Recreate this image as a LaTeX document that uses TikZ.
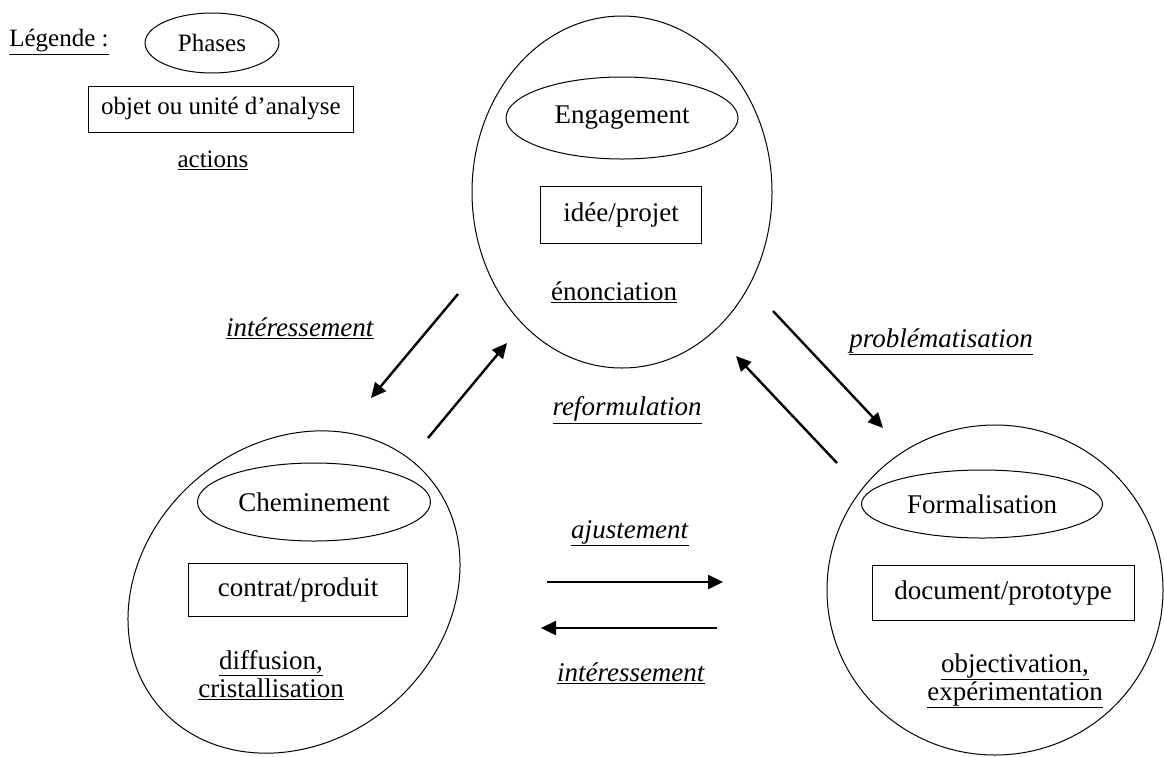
\documentclass[tikz,border=0pt]{standalone}
\usepackage{fontspec}
\setmainfont{Liberation Serif}
\usetikzlibrary{shapes.geometric,arrows.meta}
\begin{document}
\begin{tikzpicture}[x=1pt,y=-1pt,
  every node/.style={font=\fontsize{27}{28}\selectfont},
  legfont/.style={font=\fontsize{25}{28}\selectfont},
  big/.style={draw,ellipse,line width=1pt,inner sep=0pt},
  phase/.style={draw,ellipse,line width=1pt,inner sep=0pt},
  obj/.style={draw,rectangle,line width=1pt,inner sep=0pt},
  lbl/.style={align=center,inner sep=0pt},
  arr/.style={line width=2.4pt,-{Triangle[length=15pt,width=14pt]}}
]
\useasboundingbox (0,0) rectangle (1164,756);
% legend
\node[lbl,legfont] (leg) at (59,42) {\underline{Légende :}};
\node[phase,legfont, minimum width=134pt, minimum height=60pt] (lphase) at (212,43) {Phases};
\node[obj,legfont, minimum width=265pt, minimum height=46pt] (lobj) at (221,109) {objet ou unité d’analyse};
\node[lbl,legfont] (lact) at (213,160) {\underline{actions}};
% Engagement
\node[big, minimum width=300pt, minimum height=352pt] (E) at (622,192) {};
\node[phase, minimum width=232pt, minimum height=82pt] (Ep) at (622,118) {Engagement};
\node[obj, minimum width=161pt, minimum height=57pt] (Eo) at (621,215) {idée/projet};
\node[lbl] (Ea) at (614,292) {\underline{énonciation}};
% Cheminement
\node[big, rotate=40, minimum width=354pt, minimum height=298pt] (C) at (294,592) {};
\node[phase, minimum width=233pt, minimum height=78pt] (Cp) at (314,502) {Cheminement};
\node[obj, minimum width=219pt, minimum height=53pt] (Co) at (298,590) {contrat/produit};
\node[lbl] (Ca) at (271,675) {\underline{diffusion,}\\\underline{cristallisation}};
% Formalisation
\node[big, minimum width=336pt, minimum height=330pt] (F) at (995,590) {};
\node[phase, minimum width=241pt, minimum height=68pt] (Fp) at (982,504) {Formalisation};
\node[obj, minimum width=262pt, minimum height=55pt] (Fo) at (1003,593) {document/prototype};
\node[lbl] (Fa) at (1015,681) {\underline{objectivation,}\\\underline{expérimentation}};
% action labels
\node[lbl] (l1) at (300,328) {\underline{\textit{intéressement}}};
\node[lbl] (l2) at (941,342) {\underline{\textit{problématisation}}};
\node[lbl] (l3) at (627,410) {\underline{\textit{reformulation}}};
\node[lbl] (l4) at (630,533) {\underline{\textit{ajustement}}};
\node[lbl] (l5) at (631,673) {\underline{\textit{intéressement}}};
% arrows
\coordinate (a1s) at (458,294); \coordinate (a1e) at (371,398);
\coordinate (a2s) at (428,438); \coordinate (a2e) at (507,343);
\coordinate (a3s) at (773,311); \coordinate (a3e) at (883,428);
\coordinate (a4s) at (837,463); \coordinate (a4e) at (736,356);
\coordinate (a5s) at (547,582); \coordinate (a5e) at (723,582);
\coordinate (a6s) at (717,628); \coordinate (a6e) at (541,628);
\draw[arr] (a1s) -- (a1e);
\draw[arr] (a2s) -- (a2e);
\draw[arr] (a3s) -- (a3e);
\draw[arr] (a4s) -- (a4e);
\draw[arr] (a5s) -- (a5e);
\draw[arr] (a6s) -- (a6e);
\end{tikzpicture}
\end{document}
